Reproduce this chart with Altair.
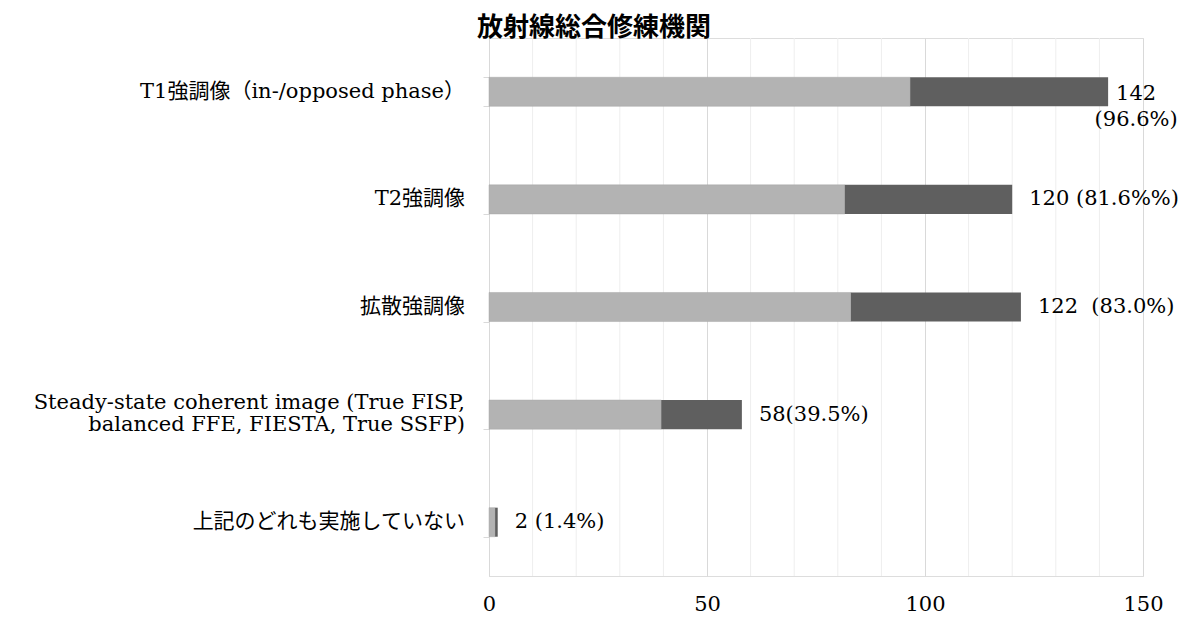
import altair as alt
import pandas as pd

# ---- data ----
title_text = "放射線総合修練機関"
categories = [
    "T1強調像（in-/opposed phase）",
    "T2強調像",
    "拡散強調像",
    "Steady-state coherent image (True FISP,|balanced FFE, FIESTA, True SSFP)",
    "上記のどれも実施していない",
]
counts = [142, 120, 122, 58, 2]
percents = [96.6, 81.6, 83.0, 39.5, 1.4]
value_labels = [
    "142|(96.6%)",
    "120 (81.6%%)",
    "122\u00a0\u00a0(83.0%)",
    "58(39.5%)",
    "2 (1.4%)",
]
x_ticks = [0, 50, 100, 150]
minor_ticks = [10, 20, 30, 40, 60, 70, 80, 90, 110, 120, 130, 140]

df = pd.DataFrame({
    "idx": list(range(len(categories))),
    "cat": categories,
    "count": counts,
    "pct": percents,
    "label": value_labels,
})
minor_df = pd.DataFrame({"v": minor_ticks})

SERIF = "DejaVu Serif, Noto Sans CJK JP"
x_scale = alt.Scale(domain=[0, 150], nice=False, zero=True)

y_enc = alt.Y(
    "cat:N",
    sort=categories,
    scale=alt.Scale(paddingInner=0.73, paddingOuter=0.365),
    axis=alt.Axis(
        title=None,
        domainColor="#d9d9d9",
        tickColor="#d9d9d9",
        tickSize=6,
        tickBand="extent",
        labels=False,
        grid=False,
    ),
)

x_axis = alt.Axis(
    title=None,
    values=x_ticks,
    domain=False,
    ticks=False,
    grid=True,
    gridColor="#d9d9d9",
    labelFont=SERIF,
    labelFontSize=21,
    labelColor="#000000",
    labelPadding=17,
    labelFlush=False,
)

minor = alt.Chart(minor_df).mark_rule(color="#eeeeee", strokeWidth=1).encode(
    x=alt.X("v:Q", scale=x_scale, axis=x_axis)
)

base = alt.Chart(df)

light = base.mark_bar(color="#b3b3b3", stroke="#a8a8a8", strokeWidth=0.5).encode(
    x=alt.X("zero:Q", scale=x_scale, axis=x_axis),
    x2="pct:Q",
    y=y_enc,
).transform_calculate(zero="0")

dark = base.mark_bar(color="#5f5f5f").encode(
    x=alt.X("pct:Q", scale=x_scale),
    x2="count:Q",
    y=y_enc,
)

# category labels (drawn as text so the two-line label can be centred)
cat_single = base.transform_filter("indexof(datum.cat, '|') < 0").mark_text(
    font=SERIF, fontSize=21, color="#000000", align="right", baseline="middle", dx=-24,
).encode(
    x=alt.value(0),
    y=y_enc,
    text="cat:N",
)

cat_multi = base.transform_filter("indexof(datum.cat, '|') >= 0").transform_calculate(
    lines="split(datum.cat, '|')"
).mark_text(
    font=SERIF, fontSize=21, color="#000000", align="right", baseline="middle",
    dx=-24, dy=-12, lineHeight=22,
).encode(
    x=alt.value(0),
    y=y_enc,
    text="lines:N",
)

label_first = base.transform_filter("datum.idx == 0").transform_calculate(
    lines="split(datum.label, '|')"
).mark_text(
    font=SERIF, fontSize=21, color="#000000", align="center",
    baseline="middle", dx=28, dy=2, lineHeight=26,
).encode(
    x=alt.X("count:Q", scale=x_scale),
    y=y_enc,
    text="lines:N",
)

label_rest = base.transform_filter("datum.idx > 0").mark_text(
    font=SERIF, fontSize=21, color="#000000", align="left",
    baseline="middle", dx=17,
).encode(
    x=alt.X("count:Q", scale=x_scale),
    y=y_enc,
    text="label:N",
)

chart = alt.layer(minor, light, dark, cat_single, cat_multi, label_first, label_rest).properties(
    width=654,
    height=538,
    autosize=alt.AutoSizeParams(type="none"),
    padding={"left": 481, "top": 30, "right": 36, "bottom": 38},
    title=alt.TitleParams(
        text=title_text,
        font="Noto Sans CJK JP",
        fontSize=26,
        fontWeight="bold",
        color="#000000",
        anchor="middle",
        frame="group",
        dx=-222,
        dy=7,
        offset=4,
    ),
).configure_view(stroke=None).configure(background="white")

chart.save("out.html", embed_options={"renderer": "svg", "actions": False})
